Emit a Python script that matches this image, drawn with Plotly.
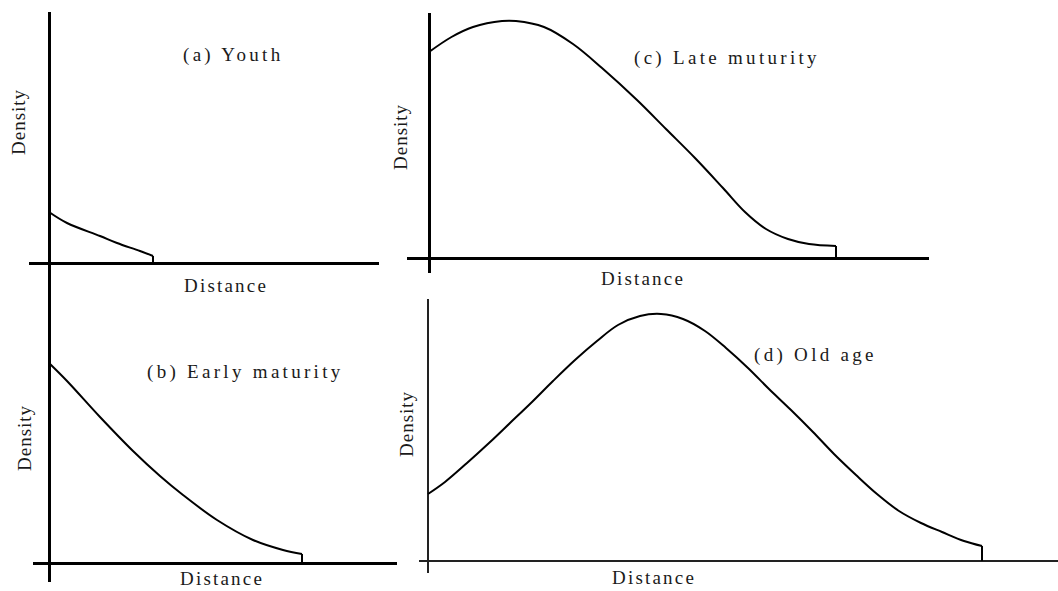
import plotly.graph_objects as go

W, H = 1058, 591

# ---------------- data (distance / density, arbitrary units) ----------------
youth_dist = [0, 1.8, 5.1, 6.8, 9.1, 10.4]
youth_dens = [5.1, 4.0, 2.7, 2.0, 1.2, 0.7]

early_dist = [0, 1.8, 5.1, 8.4, 11.1, 13.4, 16.8, 20.4, 23.4, 25.3]
early_dens = [20.0, 18.2, 14.6, 11.2, 8.7, 6.8, 4.3, 2.3, 1.3, 0.9]

late_dist = [0, 2.25, 4.4, 7.3, 8.7, 11.5, 14.4, 17.3, 20.8, 23.7, 26.6, 29.4,
             31.6, 33.7, 35.9, 38.0, 40.7]
late_dens = [20.6, 22.1, 23.1, 23.7, 23.7, 23.1, 21.4, 19.0, 15.8, 12.9, 10.0, 7.0,
             4.6, 2.9, 1.9, 1.4, 1.2]

old_dist = [0, 1.7, 3.9, 6.1, 8.2, 10.4, 12.5, 14.7, 16.9, 19.0, 21.2, 23.3, 25.5,
            27.7, 29.8, 32.0, 34.1, 36.3, 38.5, 40.6, 42.8, 44.9, 47.1, 49.3, 51.4,
            53.6, 55.4]
old_dens = [6.7, 7.9, 9.8, 11.8, 13.8, 15.9, 18.0, 20.1, 22.0, 23.6, 24.5, 24.7, 24.2,
            23.0, 21.3, 19.3, 17.2, 15.1, 12.9, 10.7, 8.6, 6.7, 5.0, 3.8, 2.9,
            2.0, 1.5]

titles = ["(a) Youth", "(b) Early maturity", "(c) Late muturity", "(d) Old age"]
x_label = "Distance"
y_label = "Density"

# ---------------- layout geometry (pixels) ----------------
K = 10.0  # pixels per data unit
panels = [
    dict(ox=49, oy=263, box=(29, 379, 12, 285), aw=2.5, ac="#000"),
    dict(ox=49, oy=563, box=(33, 397, 284, 582), aw=2.5, ac="#000"),
    dict(ox=429, oy=258, box=(407, 929, 13, 273), aw=2.5, ac="#000"),
    dict(ox=428, oy=561, box=(419, 1058, 299, 573), aw=1.5, ac="#222"),
]
series = [(youth_dist, youth_dens), (early_dist, early_dens),
          (late_dist, late_dens), (old_dist, old_dens)]

title_pos = [(233, 55), (245, 372), (727, 58), (815, 355)]
xlab_pos = [(226, 285), (222, 578), (643, 278), (654, 577)]
ylab_pos = [(18, 122), (24, 438), (400, 137), (406, 424)]

fig = go.Figure()
layout = {}
for i, (p, (xs, ys)) in enumerate(zip(panels, series)):
    n = "" if i == 0 else str(i + 1)
    x0, x1, y0, y1 = p["box"]
    layout["xaxis" + n] = dict(
        domain=[x0 / W, x1 / W],
        range=[(x0 - p["ox"]) / K, (x1 - p["ox"]) / K],
        anchor="y" + n, showgrid=False, showticklabels=False, ticks="",
        showline=False, zeroline=True, zerolinecolor=p["ac"], zerolinewidth=p["aw"],
        fixedrange=True,
    )
    layout["yaxis" + n] = dict(
        domain=[1 - y1 / H, 1 - y0 / H],
        range=[(p["oy"] - y1) / K, (p["oy"] - y0) / K],
        anchor="x" + n, showgrid=False, showticklabels=False, ticks="",
        showline=False, zeroline=True, zerolinecolor=p["ac"], zerolinewidth=p["aw"],
        fixedrange=True,
    )
    fig.add_trace(go.Scatter(
        x=xs, y=ys, mode="lines", xaxis="x" + n, yaxis="y" + n,
        line=dict(color="#000", width=2, shape="spline", smoothing=1.0),
        hoverinfo="skip", showlegend=False,
    ))
    # vertical drop at the end of the curve
    fig.add_trace(go.Scatter(
        x=[xs[-1], xs[-1]], y=[ys[-1], 0], mode="lines", xaxis="x" + n, yaxis="y" + n,
        line=dict(color="#000", width=2), hoverinfo="skip", showlegend=False,
    ))

font = dict(family="Liberation Serif, Times New Roman, serif", size=19, color="#1a1a1a")
ann = []
for (tx, ty), t in zip(title_pos, titles):
    ann.append(dict(x=tx / W, y=1 - ty / H, xref="paper", yref="paper",
                    text='<span style="letter-spacing:3.3px">' + t + "</span>",
                    showarrow=False, xanchor="center", yanchor="middle", font=font))
for (tx, ty) in xlab_pos:
    ann.append(dict(x=tx / W, y=1 - ty / H, xref="paper", yref="paper",
                    text='<span style="letter-spacing:2.2px">' + x_label + "</span>",
                    showarrow=False, xanchor="center", yanchor="middle", font=font,
                    borderpad=0))
for (tx, ty) in ylab_pos:
    ann.append(dict(x=tx / W, y=1 - ty / H, xref="paper", yref="paper",
                    text='<span style="letter-spacing:1px">' + y_label + "</span>",
                    showarrow=False, xanchor="center", yanchor="middle", font=font,
                    textangle=-90))

fig.update_layout(
    width=W, height=H, margin=dict(l=0, r=0, t=0, b=0),
    paper_bgcolor="white", plot_bgcolor="white",
    annotations=ann, **layout,
)

fig.write_html(
    "out.html",
    config={"displayModeBar": False},
    post_script="document.body.style.margin='0';document.body.style.overflow='hidden';",
)
